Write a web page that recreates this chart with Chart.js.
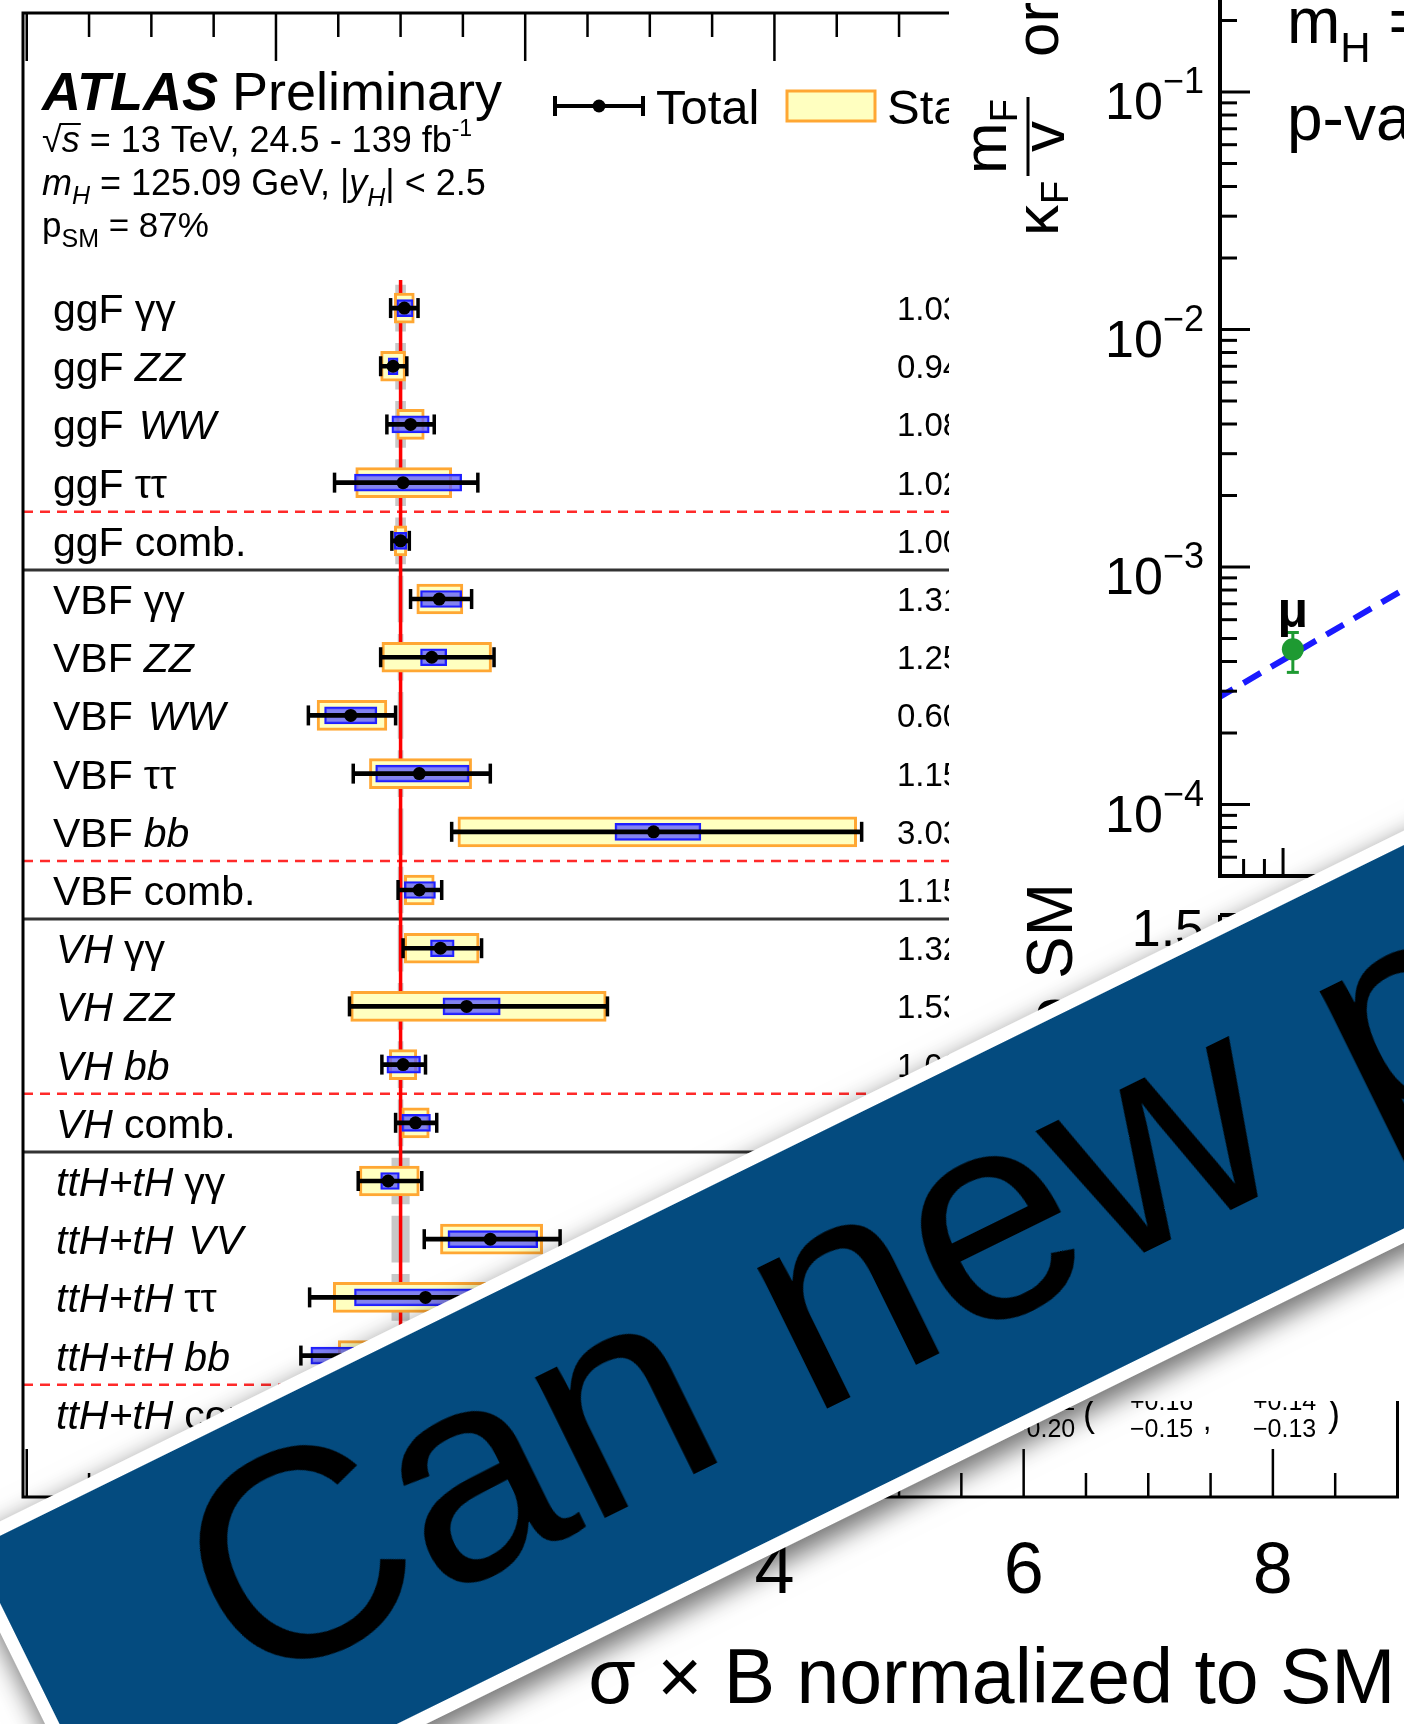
<!DOCTYPE html>
<html lang="en">
<head>
<meta charset="utf-8">
<title>Higgs boson signal strengths</title>
<script src="https://cdn.jsdelivr.net/npm/chart.js@4.4.1/dist/chart.umd.min.js"></script>
<style>
  html, body { margin:0; padding:0; background:#fff; }
  #page { position:relative; width:1404px; height:1724px; overflow:hidden; background:#fff; }
  #muCanvas { position:absolute; left:0; top:0; }
  #kappaPanel { position:absolute; left:949px; top:0; width:455px; height:1401px; overflow:hidden; background:#fff; z-index:1; }
  #kappaCanvas { position:absolute; left:0; top:-240px; }
  #ratioCanvas { position:absolute; left:0; top:860px; }
  #banner { position:absolute; left:-44px; top:1543px; width:2400px; height:344px; padding:13px; background:#fff;
            transform-origin:0 0; transform:rotate(-26.2deg); box-shadow:0 10px 24px 3px rgba(0,0,0,0.55); z-index:2; }
  #bannerInner { position:relative; width:100%; height:100%; background:#044b7f; overflow:hidden; }
  #bannerText { position:absolute; left:180px; top:0; font-family:'Liberation Sans', Arial, sans-serif;
                font-size:297px; line-height:297px; color:#000; white-space:nowrap; }
</style>
</head>
<body>
<div id="page">
  <canvas id="muCanvas" width="1404" height="1724"></canvas>
  <div id="kappaPanel">
    <canvas id="kappaCanvas" width="1720" height="1136"></canvas>
    <canvas id="ratioCanvas" width="1720" height="440"></canvas>
  </div>
  <div id="banner"><div id="bannerInner"><div id="bannerText">Can new physics</div></div></div>
</div>
<script>
// ---------------- signal strengths (sigma x B normalised to SM) ----------------
const productionModes = ['ggF','ggF','ggF','ggF','ggF',
                         'VBF','VBF','VBF','VBF','VBF','VBF',
                         'VH','VH','VH','VH',
                         'ttH+tH','ttH+tH','ttH+tH','ttH+tH','ttH+tH'];
const decayModes = ['γγ','ZZ','WW','ττ','comb.',
                    'γγ','ZZ','WW','ττ','bb','comb.',
                    'γγ','ZZ','bb','comb.',
                    'γγ','VV','ττ','bb','comb.'];
const muValues  = [1.03,0.94,1.08,1.02,1.00, 1.31,1.25,0.60,1.15,3.03,1.15, 1.32,1.53,1.02,1.12, 0.90,1.72,1.20,0.79,1.10];
const totalUp   = [0.11,0.11,0.19,0.60,0.07, 0.26,0.50,0.36,0.57,1.67,0.18, 0.33,1.13,0.18,0.17, 0.27,0.56,1.07,0.60,0.21];
const totalDown = [0.11,0.10,0.19,0.55,0.07, 0.23,0.41,0.34,0.53,1.62,0.17, 0.30,0.94,0.17,0.16, 0.24,0.53,0.93,0.59,0.20];
const statUp    = [0.08,0.10,0.11,0.39,0.05, 0.19,0.48,0.29,0.42,1.63,0.12, 0.31,1.12,0.11,0.11, 0.25,0.42,0.81,0.29,0.16];
const statDown  = [0.08,0.10,0.11,0.38,0.05, 0.18,0.40,0.27,0.40,1.57,0.12, 0.29,0.93,0.11,0.11, 0.23,0.40,0.74,0.29,0.15];
const systUp    = [0.07,0.04,0.15,0.47,0.05, 0.18,0.12,0.21,0.40,0.38,0.13, 0.11,0.27,0.14,0.12, 0.09,0.38,0.70,0.52,0.14];
const systDown  = [0.06,0.04,0.15,0.39,0.05, 0.15,0.09,0.21,0.35,0.31,0.12, 0.08,0.19,0.13,0.11, 0.06,0.34,0.57,0.51,0.13];
const smUncertainty = [0.04,0.04,0.04,0.04,0.04, 0.02,0.02,0.02,0.02,0.02,0.02, 0.02,0.02,0.02,0.02, 0.07,0.07,0.07,0.07,0.07];
const muTickValues = [-2, 0, 2, 4, 6, 8];
const muTickLabels = ['−2', '0', '2', '4', '6', '8'];

// ---------------- coupling-strength panel ----------------
const particleNames = ['μ'];
const particleMass  = [0.1057];           // GeV
const reducedCoupling   = [4.5e-4];
const reducedCouplingLo = [3.6e-4];
const reducedCouplingHi = [5.3e-4];
const ratioToSM     = [1.05];
const smLineMass     = [0.05, 200];
const smLineCoupling = [2.031e-4, 0.8123];
const decadeExponents = [-4, -3, -2, -1, 0];
const ratioTickValues = [0.5, 1, 1.5];
const ratioTickLabels = ['0.5', '1', '1.5'];

const FONT = "'Liberation Sans', Arial, Helvetica, sans-serif";
const italicProd = new Set(['VH', 'ttH+tH']);
const italicDecay = new Set(['ZZ', 'WW', 'bb', 'VV']);

function font(size, italic, bold) {
  return (italic ? 'italic ' : '') + (bold ? 'bold ' : '') + size + 'px ' + FONT;
}
function drawRuns(ctx, x, y, runs) {
  const pos = [];
  for (const r of runs) {
    ctx.font = font(r.size, r.italic, r.bold);
    ctx.fillText(r.t, x, y + (r.dy || 0));
    const w = ctx.measureText(r.t).width;
    pos.push([x, x + w]);
    x += w + (r.gap || 0);
  }
  return pos;
}
function seg(ctx, x1, y1, x2, y2) {
  ctx.beginPath(); ctx.moveTo(x1, y1); ctx.lineTo(x2, y2); ctx.stroke();
}
function fmt(v) { return v.toFixed(2); }

// stacked "+a / -b" or "± a" uncertainty text
function drawUnc(ctx, x, y, up, down) {
  if (up === down) {
    ctx.font = font(30);
    ctx.fillText('± ' + fmt(up), x, y + 11);
  } else {
    ctx.font = font(25);
    ctx.fillText('+' + fmt(up), x, y - 4);
    ctx.fillText('−' + fmt(down), x, y + 23);
  }
}

const rows = muValues.map((_, i) => i);

const atlasDecor = {
  id: 'atlasDecor',
  beforeDatasetsDraw(chart) {
    const {ctx, chartArea: a, scales: {y}} = chart;
    ctx.save();
    rows.forEach(i => {
      if (decayModes[i] !== 'comb.') return;
      const yd = y.getPixelForValue(i - 0.5);
      ctx.strokeStyle = '#ff2a2a'; ctx.lineWidth = 2.5; ctx.setLineDash([10, 7]);
      seg(ctx, a.left, yd, a.right, yd);
      ctx.setLineDash([]);
      if (i < rows.length - 1) {
        const ys = y.getPixelForValue(i + 0.5);
        ctx.strokeStyle = '#333'; ctx.lineWidth = 3;
        seg(ctx, a.left, ys, a.right, ys);
      }
    });
    ctx.restore();
  },
  afterDatasetDraw(chart, args) {
    const {ctx, scales: {x, y}} = chart;
    ctx.save();
    if (args.index === 0) {
      // SM expectation
      const px = x.getPixelForValue(1);
      ctx.strokeStyle = '#ff0000'; ctx.lineWidth = 3.5;
      seg(ctx, px, y.getPixelForValue(-0.48), px, y.getPixelForValue(rows.length - 0.5));
    }
    if (args.index === 3) {
      // caps of the total uncertainty bars
      ctx.strokeStyle = '#000'; ctx.lineWidth = 3.5;
      rows.forEach(i => {
        const py = y.getPixelForValue(i);
        [muValues[i] - totalDown[i], muValues[i] + totalUp[i]].forEach(v => {
          const px = x.getPixelForValue(v);
          seg(ctx, px, py - 10, px, py + 10);
        });
      });
    }
    ctx.restore();
  },
  afterDraw(chart) {
    const {ctx, chartArea: a, scales: {x, y}} = chart;
    ctx.save();
    ctx.fillStyle = '#000'; ctx.strokeStyle = '#000';
    // frame
    ctx.lineWidth = 3;
    ctx.strokeRect(a.left, a.top, a.right - a.left, a.bottom - a.top);
    // ticks on top and bottom
    ctx.lineWidth = 2.5;
    for (let v = Math.ceil(x.min * 2) / 2; v <= x.max + 1e-9; v += 0.5) {
      const px = x.getPixelForValue(v);
      if (px < a.left + 3 || px > a.right - 3) continue;
      const len = Math.abs(v % 2) < 1e-9 ? 48 : 24;
      seg(ctx, px, a.top, px, a.top + len);
      seg(ctx, px, a.bottom, px, a.bottom - len);
    }
    // tick labels
    ctx.font = font(72); ctx.textAlign = 'center';
    muTickValues.forEach((v, k) => ctx.fillText(muTickLabels[k], x.getPixelForValue(v), a.bottom + 96));
    // axis title
    ctx.font = font(77); ctx.textAlign = 'right';
    ctx.fillText('σ × B normalized to SM', a.right - 2, a.bottom + 206);
    ctx.textAlign = 'left';

    // experiment label
    drawRuns(ctx, 42, 110, [{t: 'ATLAS', size: 54, italic: true, bold: true, gap: 14}, {t: 'Preliminary', size: 54}]);
    const p2 = drawRuns(ctx, 42, 152, [
      {t: '√', size: 36}, {t: 's', size: 36, italic: true},
      {t: ' = 13 TeV, 24.5 - 139 fb', size: 36}, {t: '-1', size: 23, dy: -16}]);
    ctx.lineWidth = 2;
    seg(ctx, p2[0][1] - 2, 152 - 28, p2[1][1] + 1, 152 - 28);
    drawRuns(ctx, 42, 195, [
      {t: 'm', size: 36, italic: true}, {t: 'H', size: 25, italic: true, dy: 9},
      {t: ' = 125.09 GeV, |', size: 36}, {t: 'y', size: 36, italic: true},
      {t: 'H', size: 25, italic: true, dy: 11}, {t: '| < 2.5', size: 36}]);
    drawRuns(ctx, 42, 237, [{t: 'p', size: 35}, {t: 'SM', size: 25, dy: 10}, {t: ' = 87%', size: 35}]);

    // legend
    const ly = 106;
    ctx.lineWidth = 4; ctx.strokeStyle = '#000';
    seg(ctx, 553, ly, 645, ly); seg(ctx, 555, ly - 10, 555, ly + 10); seg(ctx, 643, ly - 10, 643, ly + 10);
    ctx.beginPath(); ctx.arc(599, ly, 6.5, 0, 2 * Math.PI); ctx.fill();
    ctx.font = font(49); ctx.fillText('Total', 656, 124);
    ctx.fillStyle = '#ffffc0'; ctx.fillRect(787, 91, 88, 30);
    ctx.strokeStyle = '#ffa733'; ctx.lineWidth = 3; ctx.strokeRect(787, 91, 88, 30);
    ctx.fillStyle = '#000'; ctx.fillText('Stat.', 887, 124);
    ctx.fillStyle = 'rgba(90,90,255,0.75)'; ctx.fillRect(1010, 97, 88, 18);
    ctx.strokeStyle = '#1e1eff'; ctx.lineWidth = 2; ctx.strokeRect(1010, 97, 88, 18);
    ctx.fillStyle = '#000'; ctx.fillText('Syst.', 1110, 124);
    ctx.fillStyle = '#c8c8c8'; ctx.fillRect(1240, 91, 40, 30);
    ctx.fillStyle = '#000'; ctx.fillText('SM', 1292, 124);

    // row labels and numeric results
    rows.forEach(i => {
      const py = y.getPixelForValue(i);
      const prod = productionModes[i], dec = decayModes[i];
      const decGap = (dec === 'WW' || dec === 'VV') ? 15 : 11;
      drawRuns(ctx, italicProd.has(prod) ? 56 : 53, py + 15, [
        {t: prod, size: 41, italic: italicProd.has(prod), gap: decGap},
        {t: dec, size: 41, italic: italicDecay.has(dec)}]);
      ctx.font = font(33);
      ctx.fillText(fmt(muValues[i]), 897, py + 12);
      drawUnc(ctx, 1012, py, totalUp[i], totalDown[i]);
      ctx.font = font(36); ctx.fillText('(', 1083, py + 12);
      drawUnc(ctx, 1130, py, statUp[i], statDown[i]);
      ctx.font = font(30); ctx.fillText(',', 1203, py + 16);
      drawUnc(ctx, 1253, py, systUp[i], systDown[i]);
      ctx.font = font(36); ctx.fillText(')', 1328, py + 12);
    });
    ctx.restore();
  }
};

const barCommon = { grouped: false, barPercentage: 1, categoryPercentage: 1, borderSkipped: false };

new Chart(document.getElementById('muCanvas'), {
  type: 'bar',
  data: {
    datasets: [
      Object.assign({ label: 'SM', data: rows.map(i => ({y: i, x: [1 - smUncertainty[i], 1 + smUncertainty[i]]})),
        backgroundColor: '#c8c8c8', borderWidth: 0, maxBarThickness: 46, order: 5 }, barCommon),
      Object.assign({ label: 'Stat.', data: rows.map(i => ({y: i, x: [muValues[i] - statDown[i], muValues[i] + statUp[i]]})),
        backgroundColor: '#ffffc0', borderColor: '#ffa733', borderWidth: 3, maxBarThickness: 30, order: 4 }, barCommon),
      Object.assign({ label: 'Syst.', data: rows.map(i => ({y: i, x: [muValues[i] - systDown[i], muValues[i] + systUp[i]]})),
        backgroundColor: 'rgba(90,90,255,0.75)', borderColor: '#1e1eff', borderWidth: 2, maxBarThickness: 17, order: 3 }, barCommon),
      Object.assign({ label: 'Total', data: rows.map(i => ({y: i, x: [muValues[i] - totalDown[i], muValues[i] + totalUp[i]]})),
        backgroundColor: '#000', borderWidth: 0, maxBarThickness: 4, order: 2 }, barCommon),
      { type: 'scatter', label: 'Best fit', data: rows.map(i => ({x: muValues[i], y: i})),
        pointRadius: 6.5, pointBackgroundColor: '#000', pointBorderWidth: 0, order: 1 }
    ]
  },
  options: {
    indexAxis: 'y', responsive: false, animation: false, devicePixelRatio: 1,
    layout: { padding: { left: 23, top: 13, right: 4, bottom: 227 } },
    scales: {
      x: { type: 'linear', min: -2.03, max: 9, offset: false, display: false },
      y: { type: 'linear', min: -5.07, max: 20.43, reverse: true, offset: false, display: false,
           afterBuildTicks: s => { s.ticks = rows.map(v => ({value: v})); } }
    },
    plugins: { legend: { display: false }, tooltip: { enabled: false } }
  },
  plugins: [atlasDecor]
});

// ---------------- coupling vs mass panel ----------------
function logTicks(scale, from, to) {
  const out = [];
  for (let n = from; n <= to; n++) for (let k = 1; k <= 9; k++) {
    const v = k * Math.pow(10, n);
    if (v >= scale.min * 0.9999 && v <= scale.max * 1.0001) out.push([v, k === 1]);
  }
  return out;
}

const kappaDecor = {
  id: 'kappaDecor',
  beforeDatasetsDraw(chart) {
    const {ctx, scales: {x, y}} = chart;
    ctx.save();
    ctx.strokeStyle = '#1e9a32'; ctx.lineWidth = 3;
    particleMass.forEach((m, i) => {
      const px = x.getPixelForValue(m);
      const lo = y.getPixelForValue(reducedCouplingLo[i]), hi = y.getPixelForValue(reducedCouplingHi[i]);
      seg(ctx, px, lo, px, hi); seg(ctx, px - 6, lo, px + 6, lo); seg(ctx, px - 6, hi, px + 6, hi);
    });
    ctx.restore();
  },
  afterDraw(chart) {
    const {ctx, chartArea: a, scales: {x, y}} = chart;
    ctx.save();
    ctx.strokeStyle = '#000'; ctx.fillStyle = '#000';
    ctx.lineWidth = 3;
    logTicks(y, -5, 0).forEach(([v, major]) => {
      const py = y.getPixelForValue(v); seg(ctx, a.left, py, a.left + (major ? 30 : 17), py);
    });
    logTicks(x, -2, 2).forEach(([v, major]) => {
      const px = x.getPixelForValue(v); seg(ctx, px, a.bottom, px, a.bottom - (major ? 28 : 17));
    });
    ctx.lineWidth = 4;
    seg(ctx, a.left, a.top, a.left, a.bottom + 2);
    seg(ctx, a.left - 2, a.bottom, a.right, a.bottom);
    // decade labels
    decadeExponents.forEach(e => {
      const py = y.getPixelForValue(Math.pow(10, e));
      const sup = e === 0 ? '' : '−' + Math.abs(e);
      ctx.font = font(52); const w10 = ctx.measureText(e === 0 ? '1' : '10').width;
      ctx.font = font(36); const ws = ctx.measureText(sup).width;
      const x0 = a.left - 16 - w10 - ws;
      ctx.font = font(52); ctx.fillText(e === 0 ? '1' : '10', x0, py + 27);
      ctx.font = font(36); ctx.fillText(sup, x0 + w10, py + 1);
    });
    // particle labels
    ctx.font = font(50, false, true); ctx.textAlign = 'center';
    particleNames.forEach((nm, i) => {
      ctx.fillText(nm, x.getPixelForValue(particleMass[i]), y.getPixelForValue(reducedCoupling[i]) - 22);
    });
    ctx.textAlign = 'left';
    // annotation text
    const tx = a.left + 67, ty = 283;
    drawRuns(ctx, tx, ty, [{t: 'm', size: 64}, {t: 'H', size: 42, dy: 19}, {t: ' = 125.09 GeV', size: 64}]);
    ctx.font = font(64); ctx.fillText('p-value = 56%', tx, ty + 97);
    // y-axis title (rotated)
    ctx.translate(a.left - 162, 476);
    ctx.rotate(-Math.PI / 2);
    ctx.font = font(62); ctx.fillText('κ', 0, 0);
    const wk = ctx.measureText('κ').width;
    ctx.font = font(38); ctx.fillText('F', wk + 1, 10);
    const u0 = 60, u1 = 139;
    ctx.lineWidth = 3; seg(ctx, u0, -30, u1, -30);
    ctx.font = font(62); const wm = ctx.measureText('m').width;
    ctx.font = font(38); const wf = ctx.measureText('F').width;
    const nStart = (u0 + u1) / 2 - (wm + wf) / 2;
    ctx.font = font(62); ctx.fillText('m', nStart, -52);
    ctx.font = font(38); ctx.fillText('F', nStart + wm, -41);
    ctx.font = font(62); const wv = ctx.measureText('v').width;
    ctx.fillText('v', (u0 + u1) / 2 - wv / 2, 6);
    ctx.fillText('or', 179, 0);
    ctx.restore();
  }
};

new Chart(document.getElementById('kappaCanvas'), {
  type: 'scatter',
  data: {
    datasets: [
      { label: 'SM', data: smLineMass.map((m, i) => ({x: m, y: smLineCoupling[i]})), showLine: true,
        borderColor: '#1a1aff', borderWidth: 6, borderDash: [20, 12], pointRadius: 0, order: 2 },
      { label: 'Data', data: particleMass.map((m, i) => ({x: m, y: reducedCoupling[i]})),
        pointRadius: 11, pointBackgroundColor: '#1e9a32', pointBorderWidth: 0, order: 1 }
    ]
  },
  options: {
    responsive: false, animation: false, devicePixelRatio: 1,
    layout: { padding: { left: 271, top: 23, right: 42.4, bottom: 20 } },
    scales: {
      x: { type: 'logarithmic', min: 0.07, max: 200, display: false },
      y: { type: 'logarithmic', min: 5e-5, max: 2, display: false }
    },
    plugins: { legend: { display: false }, tooltip: { enabled: false } }
  },
  plugins: [kappaDecor]
});

const ratioDecor = {
  id: 'ratioDecor',
  afterDraw(chart) {
    const {ctx, chartArea: a, scales: {y}} = chart;
    ctx.save();
    ctx.strokeStyle = '#000'; ctx.fillStyle = '#000';
    ctx.lineWidth = 3;
    for (let v = 0.5; v <= 1.5 + 1e-9; v += 0.1) {
      const py = y.getPixelForValue(v);
      const major = Math.abs(v * 2 - Math.round(v * 2)) < 1e-6;
      seg(ctx, a.left, py, a.left + (major ? 30 : 17), py);
    }
    ctx.lineWidth = 4;
    seg(ctx, a.left, a.top, a.left, a.bottom); seg(ctx, a.left, a.top, a.right, a.top);
    ctx.font = font(52); ctx.textAlign = 'right';
    ratioTickValues.forEach((v, k) => ctx.fillText(ratioTickLabels[k], a.left - 16, y.getPixelForValue(v) + 18));
    ctx.translate(a.left - 148, 23);
    ctx.rotate(-Math.PI / 2);
    ctx.font = font(64); ctx.textAlign = 'right';
    ctx.fillText('Ratio to SM', 0, 0);
    ctx.restore();
  }
};

new Chart(document.getElementById('ratioCanvas'), {
  type: 'scatter',
  data: {
    datasets: [
      { label: 'Ratio', data: particleMass.map((m, i) => ({x: m, y: ratioToSM[i]})),
        pointRadius: 10, pointBackgroundColor: '#1e9a32', pointBorderWidth: 0 }
    ]
  },
  options: {
    responsive: false, animation: false, devicePixelRatio: 1,
    layout: { padding: { left: 271, top: 55, right: 42.4, bottom: 95 } },
    scales: {
      x: { type: 'logarithmic', min: 0.07, max: 200, display: false },
      y: { type: 'linear', min: 0.45, max: 1.55, display: false }
    },
    plugins: { legend: { display: false }, tooltip: { enabled: false } }
  },
  plugins: [ratioDecor]
});
</script>
</body>
</html>
